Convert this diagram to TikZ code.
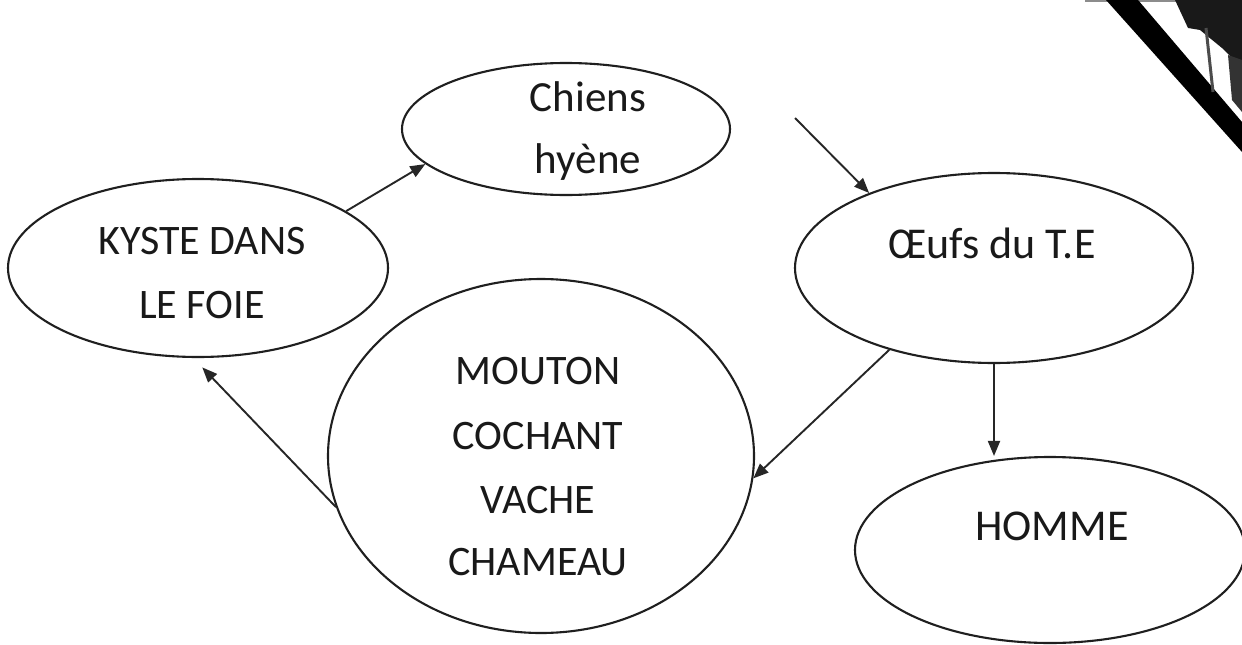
\documentclass[tikz,border=0pt]{standalone}
\usepackage{fontspec}
\setmainfont{Carlito}
\usetikzlibrary{shapes.geometric,arrows.meta}
\begin{document}
\begin{tikzpicture}[x=1pt,y=-1pt,
  ell/.style={ellipse,draw=black!88,line width=2.1pt,inner sep=0pt},
  lbl/.style={anchor=base,inner sep=0pt,text=black!90},
  arr/.style={draw=black!85,line width=1.9pt,-{Triangle[length=15pt,width=12pt]}}]
\useasboundingbox (0,0) rectangle (1242,645);
\fill[white] (0,0) rectangle (1242,645);
% ellipses
\node[ell,minimum width=328pt,minimum height=132pt] (chiens) at (566,129) {};
\node[ell,minimum width=380pt,minimum height=178pt] (kyste) at (198,268) {};
\node[ell,minimum width=398pt,minimum height=190pt] (oeufs) at (994,268) {};
\node[ell,minimum width=426pt,minimum height=354pt] (mouton) at (541,456) {};
\node[ell,minimum width=390pt,minimum height=186pt] (homme) at (1050,550) {};
% texts
\node[lbl,font=\fontsize{43}{50}\selectfont] (t1) at (588,111) {Chiens};
\node[lbl,font=\fontsize{43}{50}\selectfont] (t2) at (588,173) {hyène};
\node[lbl,font=\fontsize{42}{50}\selectfont] (t3) at (202,254) {KYSTE DANS};
\node[lbl,font=\fontsize{42}{50}\selectfont] (t4) at (202,318) {LE FOIE};
\node[lbl,font=\fontsize{44}{50}\selectfont] (t5) at (992,258) {Œufs du T.E};
\node[lbl,font=\fontsize{42}{50}\selectfont] (t6) at (538,384) {MOUTON};
\node[lbl,font=\fontsize{42}{50}\selectfont] (t7) at (538,449) {COCHANT};
\node[lbl,font=\fontsize{42}{50}\selectfont] (t8) at (538,513) {VACHE};
\node[lbl,font=\fontsize{42}{50}\selectfont] (t9) at (538,575) {CHAMEAU};
\node[lbl,font=\fontsize{44}{50}\selectfont] (t10) at (1052,540) {HOMME};
% connectors
\coordinate (cs) at (795,118);
\draw[arr] (kyste.21) -- (chiens.194);
\draw[arr] (cs) -- (oeufs.149);
\draw[arr] (oeufs.218) -- (mouton.354);
\draw[arr] (oeufs.south) -- (oeufs.south |- homme.north);
\draw[arr,shorten >=13pt] (mouton.194) -- (kyste.267);
% scanned corner artifact
\draw[black!45,line width=1.5pt] (1085,1) -- (1242,1);
\fill[black] (1106,0) -- (1138,0) -- (1242,122) -- (1242,152) -- cycle;
\fill[black!90] (1175,0) -- (1242,0) -- (1242,68) -- (1222,48) -- (1200,30) -- (1188,28) -- cycle;
\fill[black!80] (1228,55) -- (1242,60) -- (1242,112) -- (1232,100) -- cycle;
\draw[black!70,line width=3pt] (1206,28) -- (1213,92);
\end{tikzpicture}
\end{document}
